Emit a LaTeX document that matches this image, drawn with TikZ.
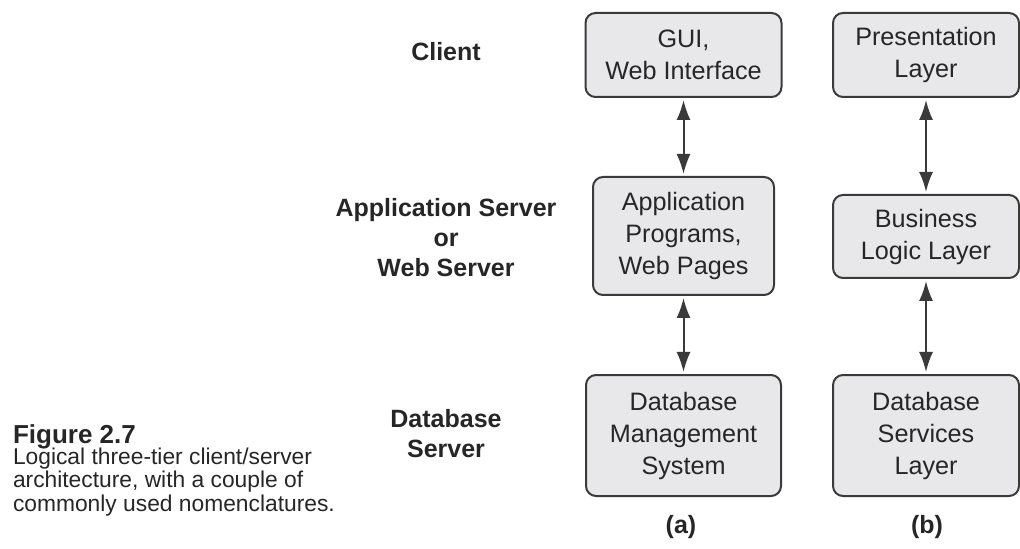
\documentclass[tikz,border=0pt]{standalone}
\usepackage{fontspec}
\setmainfont{Liberation Sans}
\usetikzlibrary{arrows.meta,positioning}
\definecolor{boxfill}{RGB}{232,232,234}
\definecolor{boxline}{RGB}{58,58,58}
\definecolor{inktext}{RGB}{38,38,38}

\begin{document}
\begin{tikzpicture}[x=0.5pt,y=-0.5pt,<->,>={Latex[length=10pt,width=7pt]},shorten >=1pt,shorten <=1pt,line width=1pt]
          \tikzstyle{tier}=[draw=boxline,fill=boxfill,rounded corners=5pt,line width=1pt,align=center,text=inktext,inner sep=0pt,font=\fontsize{12.6}{16}\selectfont]
          \tikzstyle{side}=[align=center,text=inktext,inner sep=0pt,font=\fontsize{12.5}{15}\selectfont\bfseries]
          \tikzstyle{every edge}=[draw=boxline]
          \useasboundingbox (0,0) rectangle (1020,549);

          % column (a)
          \node[tier,minimum width=98pt,minimum height=42pt]   (gui)   at (683.5,55)    {GUI,\\Web Interface};
          \node[tier,minimum width=90.5pt,minimum height=59pt] (apps)  at (683.5,236)   {Application\\Programs,\\Web Pages};
          \node[tier,minimum width=97.5pt,minimum height=60.5pt] (dbms) at (683.5,435.5) {Database\\Management\\System};
          % column (b)
          \node[tier,minimum width=93pt,minimum height=42pt]   (pres)  at (926,55)      {Presentation\\Layer};
          \node[tier,minimum width=93pt,minimum height=41.5pt] (logic) at (926,236.5)   {Business\\Logic Layer};
          \node[tier,minimum width=93pt,minimum height=60.5pt] (dbsvc) at (926,435.5)   {Database\\Services\\Layer};

          % tier names and column marks
          \node[side] (client) at (446,52)  {Client};
          \node[side] (appsrv) at (446,238) {Application Server\\or\\Web Server};
          \node[side] (dbsrv)  at (446,434) {Database\\Server};
          \node[side] (capa)   at (681,527) {(a)};
          \node[side] (capb)   at (927,527) {(b)};

          % caption
          \node[anchor=base west,inner sep=0pt,text=inktext,font=\fontsize{13}{15}\selectfont\bfseries] (fig) at (12,443) {Figure 2.7};
          \node[anchor=north west,align=left,inner sep=0pt,text=inktext,font=\fontsize{11.4}{10.6}\selectfont] (caption) at (12,447)
               {Logical three-tier client/server\\architecture, with a couple of\\commonly used nomenclatures.};

          \path (gui)   edge (apps)
                (apps)  edge (dbms)
                (pres)  edge (logic)
                (logic) edge (dbsvc);
        \end{tikzpicture}
\end{document}
